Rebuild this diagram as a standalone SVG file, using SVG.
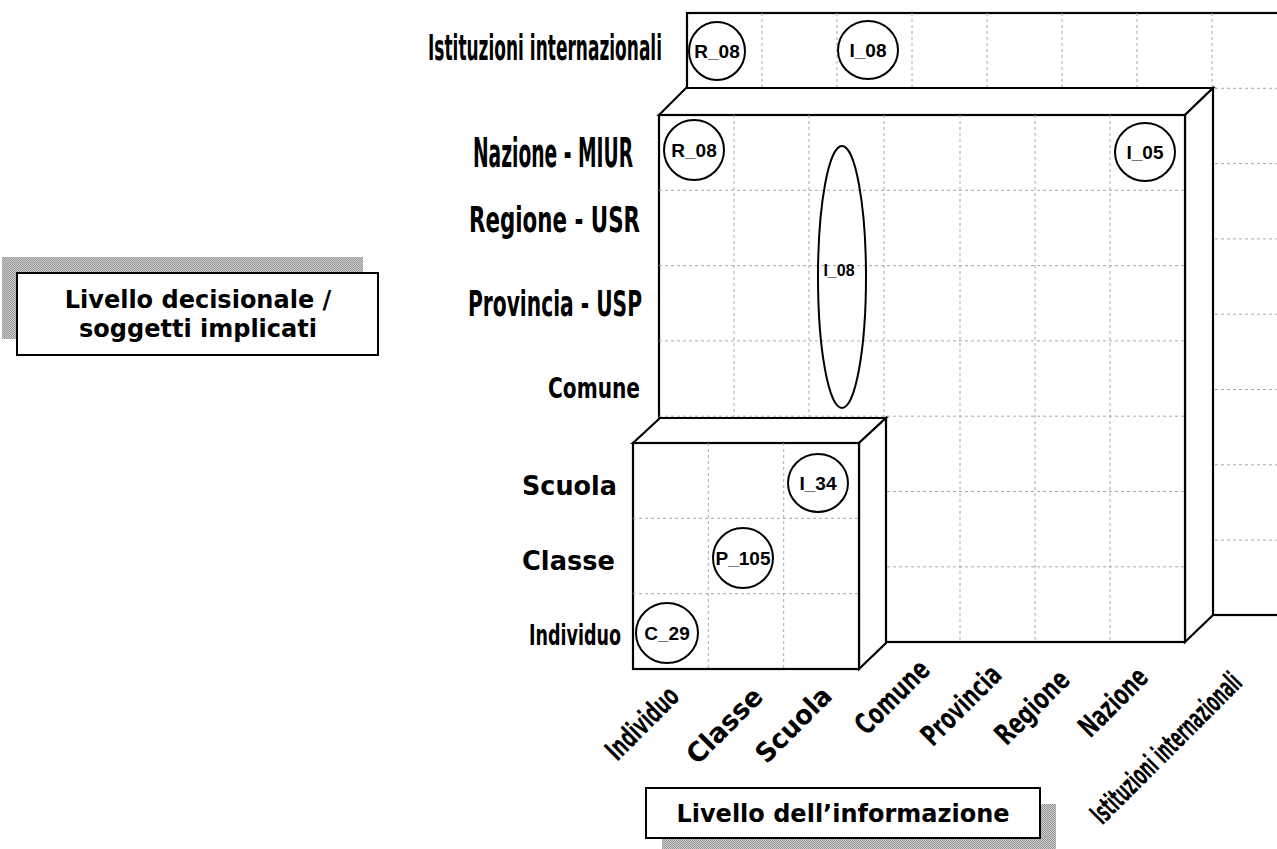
<svg xmlns="http://www.w3.org/2000/svg" width="1277" height="849" viewBox="0 0 1277 849">
<defs>
<pattern id="dots" width="2" height="2" patternUnits="userSpaceOnUse">
<rect width="2" height="2" fill="#c8c8c8"/>
<rect width="1" height="1" fill="#9a9a9a"/>
<rect x="1" y="1" width="1" height="1" fill="#9a9a9a"/>
</pattern>
</defs>
<style>
.box{fill:#fff;stroke:#000;stroke-width:2.2;stroke-linejoin:miter}
.grid{stroke:#a8a8a8;stroke-width:1;stroke-dasharray:3 3;fill:none}
.ell{fill:none;stroke:#000;stroke-width:2}
.lab{font-family:"Liberation Sans",Arial,sans-serif;font-weight:bold;font-size:19px;text-anchor:middle}
.ax{font-family:"DejaVu Sans",Verdana,sans-serif;font-weight:bold;fill:#000}
.ttl{font-family:"DejaVu Sans",Verdana,sans-serif;font-weight:bold;font-size:24px;text-anchor:middle}
.shadow{fill:url(#dots)}
.frame{fill:#fff;stroke:#000;stroke-width:2}
</style>

<g id="outer-box">
<rect class="box" x="687" y="13" width="610" height="602"/>
<path class="grid" d="M762 13V615M837 13V615M912 13V615M987 13V615M1062 13V615M1137 13V615M1212 13V615M687 88.3H1297M687 163.6H1297M687 238.9H1297M687 314.2H1297M687 389.5H1297M687 464.8H1297M687 540.1H1297"/>
</g>

<g id="medium-box">
<path class="box" d="M659 115L686 88H1213L1185 115Z"/>
<path class="box" d="M1185 115L1213 88V615L1185 642Z"/>
<rect class="box" x="659" y="115" width="526" height="527"/>
<path class="grid" d="M734 115V642M809 115V642M884 115V642M960 115V642M1035 115V642M1110 115V642M659 190.3H1185M659 265.6H1185M659 340.9H1185M659 416.2H1185M659 491.5H1185M659 566.8H1185"/>
</g>

<g id="small-box">
<path class="box" d="M633 443L660 418H886L859 443Z"/>
<path class="box" d="M859 443L886 418V643L859 669Z"/>
<rect class="box" x="633" y="443" width="226" height="226"/>
<path class="grid" d="M708.3 443V669M783.7 443V669M633 518.3H859M633 593.7H859"/>
</g>

<g id="node-R08-int">
<ellipse class="ell" cx="717" cy="51" rx="28" ry="29"/>
<text class="lab" x="717" y="58">R_08</text>
</g>
<g id="node-I08-int">
<ellipse class="ell" cx="868" cy="50" rx="30" ry="29"/>
<text class="lab" x="868" y="57">I_08</text>
</g>
<g id="node-R08-naz">
<ellipse class="ell" cx="694" cy="150" rx="30" ry="30"/>
<text class="lab" x="694" y="157">R_08</text>
</g>
<g id="node-I05">
<ellipse class="ell" cx="1145" cy="152" rx="30" ry="29"/>
<text class="lab" x="1145" y="159">I_05</text>
</g>
<g id="node-I08-tall">
<ellipse class="ell" cx="842" cy="277" rx="24" ry="131"/>
<text class="lab" x="839" y="276" style="font-size:16px">I_08</text>
</g>
<g id="node-I34">
<ellipse class="ell" cx="818" cy="483" rx="30" ry="29"/>
<text class="lab" x="818" y="490">I_34</text>
</g>
<g id="node-P105">
<ellipse class="ell" cx="743" cy="558" rx="30" ry="30"/>
<text class="lab" x="743" y="565" textLength="55" lengthAdjust="spacingAndGlyphs">P_105</text>
</g>
<g id="node-C29">
<ellipse class="ell" cx="667" cy="633" rx="31" ry="30"/>
<text class="lab" x="667" y="640">C_29</text>
</g>

<g id="y-axis-labels" class="ax" text-anchor="end">
<text x="662" y="60" font-size="36" textLength="234" lengthAdjust="spacingAndGlyphs">Istituzioni internazionali</text>
<text x="633" y="167" font-size="40" textLength="160" lengthAdjust="spacingAndGlyphs">Nazione - MIUR</text>
<text x="640" y="232" font-size="36" textLength="171" lengthAdjust="spacingAndGlyphs">Regione - USR</text>
<text x="642" y="316" font-size="36" textLength="174" lengthAdjust="spacingAndGlyphs">Provincia - USP</text>
<text x="640" y="398" font-size="29" textLength="92" lengthAdjust="spacingAndGlyphs">Comune</text>
<text x="617" y="495" font-size="27" textLength="95" lengthAdjust="spacingAndGlyphs">Scuola</text>
<text x="615" y="570" font-size="27" textLength="93" lengthAdjust="spacingAndGlyphs">Classe</text>
<text x="621" y="645" font-size="29" textLength="92" lengthAdjust="spacingAndGlyphs">Individuo</text>
</g>

<g id="x-axis-labels" class="ax" text-anchor="middle">
<text transform="translate(642 723) rotate(-45)" y="10" font-size="29" textLength="90" lengthAdjust="spacingAndGlyphs">Individuo</text>
<text transform="translate(724 725) rotate(-45)" y="10" font-size="27" textLength="95" lengthAdjust="spacingAndGlyphs">Classe</text>
<text transform="translate(793 724) rotate(-45)" y="10" font-size="27" textLength="95" lengthAdjust="spacingAndGlyphs">Scuola</text>
<text transform="translate(892 697) rotate(-45)" y="10" font-size="29" textLength="92" lengthAdjust="spacingAndGlyphs">Comune</text>
<text transform="translate(961 705) rotate(-45)" y="10" font-size="29" textLength="100" lengthAdjust="spacingAndGlyphs">Provincia</text>
<text transform="translate(1032 707) rotate(-45)" y="10" font-size="29" textLength="92" lengthAdjust="spacingAndGlyphs">Regione</text>
<text transform="translate(1113 702) rotate(-45)" y="10" font-size="29" textLength="84" lengthAdjust="spacingAndGlyphs">Nazione</text>
<text transform="translate(1166 748) rotate(-45)" y="10" font-size="29" textLength="200" lengthAdjust="spacingAndGlyphs">Istituzioni internazionali</text>
</g>

<g id="title-decisionale">
<rect class="shadow" x="2" y="257" width="361" height="82"/>
<rect class="frame" x="17" y="273" width="361" height="82"/>
<text class="ttl" x="198" y="308">Livello decisionale /</text>
<text class="ttl" x="198" y="337">soggetti implicati</text>
</g>

<g id="title-informazione">
<rect class="shadow" x="662" y="804" width="394" height="50"/>
<rect class="frame" x="646" y="788" width="394" height="50"/>
<text class="ttl" x="843" y="822">Livello dell’informazione</text>
</g>
</svg>
